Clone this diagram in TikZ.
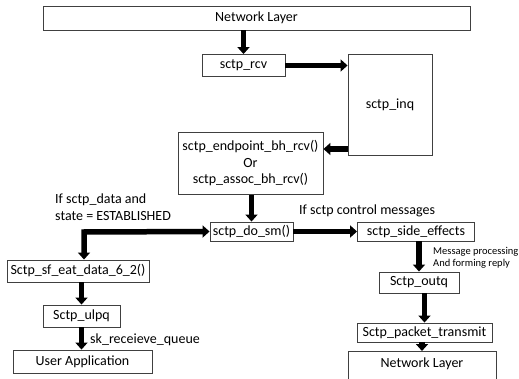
\documentclass[tikz,border=0pt]{standalone}
\usepackage{fontspec}
\setmainfont{Carlito}
\usetikzlibrary{arrows.meta}

\tikzset{
  box/.style={draw=black!75, line width=0.9pt, fill=white, inner sep=0pt,
              align=center, font=\fontsize{14}{16.5}\selectfont},
  flow/.style={line width=5.5pt, -{Triangle[width=12pt,length=7pt]}},
  flowboth/.style={line width=5.5pt, {Triangle[width=12pt,length=7pt]}-{Triangle[width=12pt,length=7pt]}},
  note/.style={inner sep=0pt, align=left, font=\fontsize{14}{17}\selectfont},
  smallnote/.style={inner sep=0pt, align=left, font=\fontsize{10.5}{12.5}\selectfont},
}

\begin{document}
\begin{tikzpicture}[x=1pt, y=-1pt]
\useasboundingbox (0,0) rectangle (519,379);

% boxes of the receive path
\node[box, minimum width=427pt, minimum height=24pt] (net1) at (256.5,18) {Network Layer};
\node[box, minimum width=83pt, minimum height=22pt] (rcv) at (243.5,65.5) {sctp\_rcv};
\node[box, minimum width=84pt, minimum height=101pt] (inq) at (390,104.5) {sctp\_inq};
\node[box, minimum width=145pt, minimum height=62pt] (ep) at (250.5,163.5)
  {sctp\_endpoint\_bh\_rcv()\\Or\\sctp\_assoc\_bh\_rcv()};
\node[box, minimum width=83pt, minimum height=19pt] (dosm) at (251.5,231.5) {sctp\_do\_sm()};
\node[box, minimum width=117pt, minimum height=19pt] (side) at (416,231.5) {sctp\_side\_effects};

% data branch
\node[box, minimum width=142pt, minimum height=22pt] (sf) at (78,271) {Sctp\_sf\_eat\_data\_6\_2()};
\node[box, minimum width=77pt, minimum height=22pt] (ulpq) at (81.5,316) {Sctp\_ulpq};
\node[box, minimum width=139pt, minimum height=23pt] (uapp) at (82.5,361.5) {User Application};

% control branch
\node[box, minimum width=80pt, minimum height=21pt] (outq) at (419,282.5) {Sctp\_outq};
\node[box, minimum width=135pt, minimum height=19pt] (ptx) at (424.5,332.5) {Sctp\_packet\_transmit};
% the last box runs past the lower edge of the page
\node[box, minimum width=148pt, minimum height=40pt, anchor=north] (net2) at (422,351) {};
\node[box, draw=none, fill=none] (net2txt) at (422,363.5) {Network Layer};

% helper points
\coordinate (inqout) at (349,149);
\coordinate (elbow) at (84,232);

% connectors
\draw[flow] (rcv.north |- net1.south) -- (rcv.north);
\draw[flow] (rcv.east) -- (rcv.east -| inq.west);
\draw[flow] (inqout -| inq.west) -- (inqout -| ep.east);
\draw[flow] (dosm.north |- ep.south) -- (dosm.north);
\draw[flow] (dosm.east) -- (side.west);
\draw[flowboth] (dosm.west) -- (elbow) -- (elbow |- sf.north);
\draw[flow] (ulpq.north |- sf.south) -- (ulpq.north);
\draw[flow] (ulpq.south) -- (uapp.north -| ulpq.south);
\draw[flow] (outq.north |- side.south) -- (outq.north);
\draw[flow] (ptx.north |- outq.south) -- (ptx.north);
\draw[flow] (net2.north |- ptx.south) -- (net2.north);

% labels
\node[note, anchor=west] (lbldata) at (55,207.5) {If sctp\_data and\\state = ESTABLISHED};
\node[note, anchor=west] (lblctrl) at (299,211) {If sctp control messages};
\node[note, anchor=west] (lblsk) at (90,340) {sk\_receieve\_queue};
\node[smallnote, anchor=west] (lblmsg) at (433,258) {Message processing\\And forming reply};
\end{tikzpicture}
\end{document}
